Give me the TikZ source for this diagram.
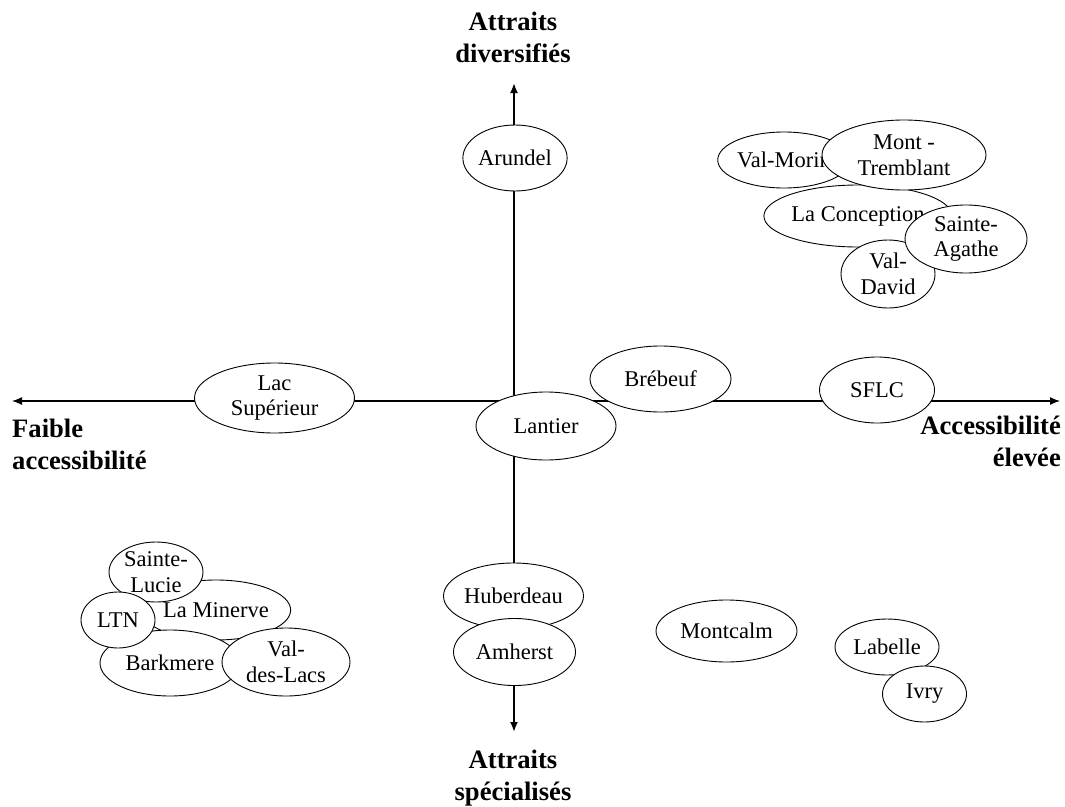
\documentclass[tikz,border=0pt]{standalone}
\usepackage{fontspec}
\setmainfont{Liberation Serif}
\usetikzlibrary{shapes.geometric,arrows.meta}
\tikzset{
  place/.style={ellipse, draw=black, fill=white, line width=0.9pt, inner sep=0pt,
    align=center, font=\fontsize{22.5}{25.5}\selectfont},
  axislabel/.style={font=\bfseries\fontsize{26.6}{32}\selectfont, inner sep=0pt},
  axisline/.style={line width=1.3pt, -{Latex[length=10pt,width=8pt]}},
}
\newcommand{\pl}[6]{\node[place, minimum width=#4pt, minimum height=#5pt] (#1) at (#2,#3) {#6};}
\begin{document}
\begin{tikzpicture}[x=1pt,y=-1pt]
\useasboundingbox (0,0) rectangle (1065,806);
% axis ends
\coordinate (O) at (514,401);
\coordinate (L) at (12,401);
\coordinate (R) at (1060,401);
\coordinate (T) at (514,83);
\coordinate (B) at (514,732);
\draw[axisline] (O) -- (L);
\draw[axisline] (O) -- (R);
\draw[axisline, line width=1.9pt] (O) -- (T);
\draw[axisline, line width=1.9pt] (O) -- (B);
% axis labels (base = last line)
\node[axislabel, align=center, anchor=base] (top) at (513,62) {Attraits\\diversifiés};
\node[axislabel, align=center, anchor=base] (bot) at (513,800) {Attraits\\spécialisés};
\node[axislabel, align=left, anchor=base west] (left) at (12,469) {Faible\\accessibilité};
\node[axislabel, align=right, anchor=base east] (right) at (1061,466) {Accessibilité\\élevée};
% places
\pl{arundel}{515}{158}{104}{66}{Arundel}
\pl{lac}{274.5}{398}{160}{70}{Lac\\Supérieur}
\pl{brebeuf}{660.5}{379}{141}{66}{Brébeuf}
\pl{lantier}{546}{426}{140}{68}{Lantier}
\pl{sflc}{877}{390}{115}{66}{SFLC}
% NE cluster
\pl{valmorin}{784}{160}{132}{56}{Val-Morin}
\pl{laconc}{858}{216}{146}{62}{La Conception}
\pl{mont}{904}{155}{164}{70}{Mont -\\Tremblant}
\pl{valdavid}{888}{274}{94}{68}{Val-\\David}
\pl{agathe}{966}{239}{122}{68}{Sainte-\\Agathe}
% SW cluster
\pl{minerve}{216}{610}{140}{60}{La Minerve}
\pl{lucie}{156}{572}{94}{60}{Sainte-\\Lucie}
\pl{barkmere}{170}{663}{140}{66}{Barkmere}
\pl{ltn}{118}{620}{74}{56}{LTN}
\pl{valdeslacs}{286}{662}{128}{68}{Val-\\des-Lacs}
% bottom
\pl{huberdeau}{513.5}{596}{140}{66}{Huberdeau}
\pl{amherst}{514.5}{652}{122}{67}{Amherst}
\pl{montcalm}{726.5}{631}{141}{62}{Montcalm}
\pl{labelle}{887}{647}{104}{56}{Labelle}
\pl{ivry}{924.5}{694}{84}{56}{Ivry}
\end{tikzpicture}
\end{document}
